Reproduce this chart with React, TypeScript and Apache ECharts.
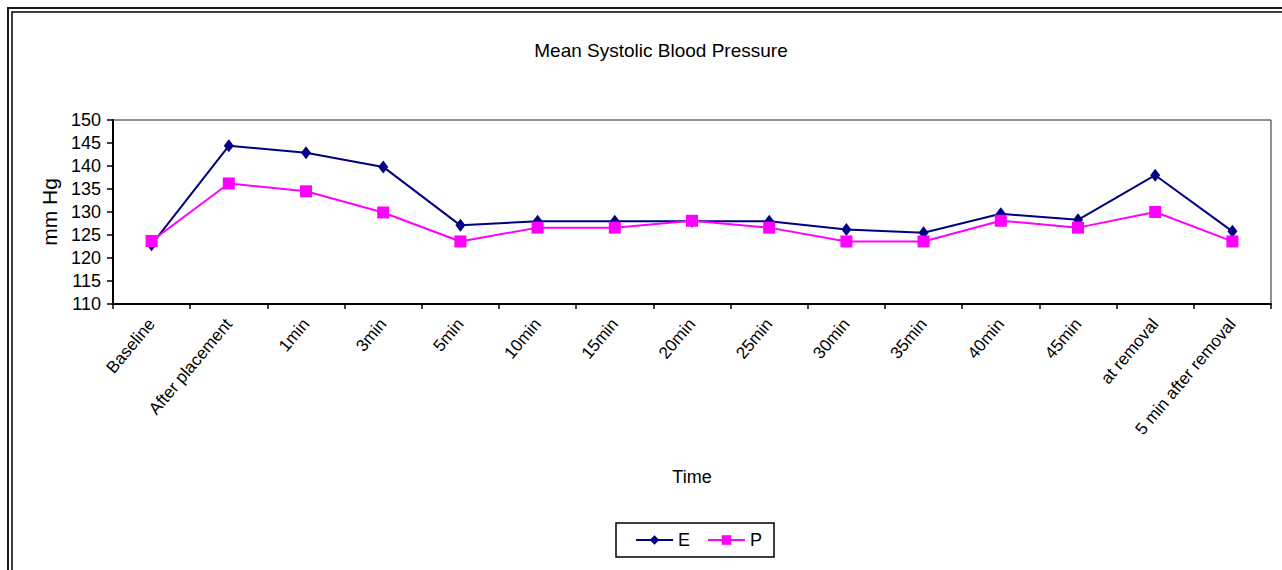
import React, { useEffect, useRef } from "react";
import * as echarts from "echarts";

const categories = [
  "Baseline",
  "After placement",
  "1min",
  "3min",
  "5min",
  "10min",
  "15min",
  "20min",
  "25min",
  "30min",
  "35min",
  "40min",
  "45min",
  "at removal",
  "5 min after removal",
];

const seriesE = [122.9, 144.4, 142.9, 139.8, 127.1, 128, 128, 128, 128, 126.2, 125.5, 129.6, 128.3, 138, 125.8];
const seriesP = [123.7, 136.2, 134.5, 129.9, 123.6, 126.6, 126.6, 128.1, 126.6, 123.6, 123.6, 128.1, 126.6, 130, 123.6];

const FONT = "'Liberation Sans', Arial, sans-serif";

export default function App() {
  const ref = useRef<HTMLDivElement>(null);

  useEffect(() => {
    document.body.style.margin = "0";
    const chart = echarts.init(ref.current!, null, { renderer: "svg" });
    chart.setOption({
      animation: false,
      backgroundColor: "#ffffff",
      textStyle: { fontFamily: FONT, color: "#000" },
      title: {
        text: "Mean Systolic Blood Pressure",
        left: 656,
        top: 36,
        textAlign: "center",
        textStyle: { fontFamily: FONT, fontSize: 19, fontWeight: "normal", color: "#000" },
      },
      graphic: [
        {
          type: "rect",
          shape: { x: 8, y: 8, width: 1400, height: 700 },
          style: { fill: "none", stroke: "#1a1a1a", lineWidth: 2 },
          silent: true,
        },
        {
          type: "rect",
          shape: { x: 12, y: 12, width: 1400, height: 700 },
          style: { fill: "none", stroke: "#000", lineWidth: 1.5 },
          silent: true,
        },
      ],
      grid: {
        left: 113,
        right: 11,
        top: 120,
        bottom: 266,
        show: true,
        borderColor: "#222",
        borderWidth: 1,
        backgroundColor: "transparent",
      },
      legend: {
        data: ["E", "P"],
        left: 616,
        top: 523,
        orient: "horizontal",
        padding: [8, 12, 8, 19],
        itemGap: 17,
        itemWidth: 37,
        itemHeight: 12,
        borderColor: "#000",
        borderWidth: 1.5,
        textStyle: { fontFamily: FONT, fontSize: 18, color: "#000", padding: [0, 0, 0, 0] },
      },
      xAxis: {
        type: "category",
        data: categories,
        boundaryGap: true,
        name: "Time",
        nameLocation: "middle",
        nameGap: 164,
        nameTextStyle: { fontFamily: FONT, fontSize: 18, color: "#000" },
        axisLine: { show: true, lineStyle: { color: "#000", width: 2 } },
        axisTick: { show: true, inside: false, length: 5, lineStyle: { color: "#000", width: 1.5 } },
        axisLabel: {
          rotate: 50,
          margin: 17,
          interval: 0,
          fontFamily: FONT,
          fontSize: 17,
          color: "#000",
        },
        splitLine: { show: false },
      },
      yAxis: {
        type: "value",
        min: 110,
        max: 150,
        interval: 5,
        name: "mm Hg",
        nameLocation: "middle",
        nameRotate: 90,
        nameGap: 53,
        nameTextStyle: { fontFamily: FONT, fontSize: 21, color: "#000" },
        axisLine: { show: true, lineStyle: { color: "#000", width: 2 } },
        axisTick: { show: true, inside: false, length: 6, lineStyle: { color: "#000", width: 1.5 } },
        axisLabel: { margin: 12, fontFamily: FONT, fontSize: 18, color: "#000" },
        splitLine: { show: false },
      },
      series: [
        {
          name: "E",
          type: "line",
          data: seriesE,
          symbol: "diamond",
          symbolSize: [10, 13],
          showAllSymbol: true,
          lineStyle: { color: "#000080", width: 2 },
          itemStyle: { color: "#000080" },
        },
        {
          name: "P",
          type: "line",
          data: seriesP,
          symbol: "rect",
          symbolSize: 12,
          showAllSymbol: true,
          lineStyle: { color: "#FF00FF", width: 2 },
          itemStyle: { color: "#FF00FF" },
        },
      ],
    });
    return () => chart.dispose();
  }, []);

  return (
    <div
      ref={ref}
      style={{ position: "fixed", left: 0, top: 0, width: 1282, height: 570 }}
    />
  );
}
